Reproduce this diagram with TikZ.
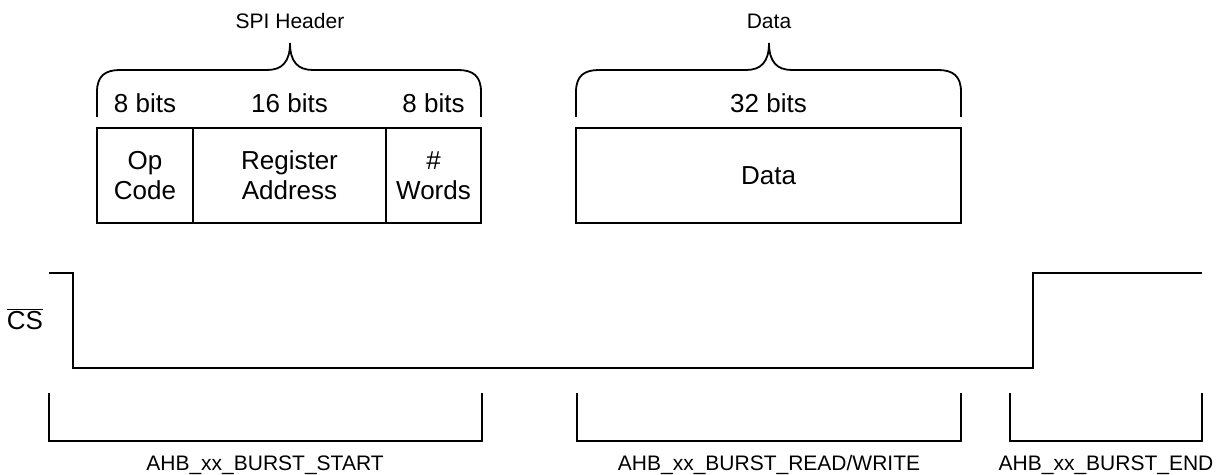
\documentclass[tikz,border=0pt]{standalone}
\usepackage{fontspec}
\setmainfont{Liberation Sans}
\tikzset{
  field/.style={draw, line width=0.75pt, minimum height=47.5pt, inner sep=0pt, outer sep=0pt, align=center, font=\fontsize{13}{15}\selectfont},
  bits/.style={anchor=base, inner sep=0pt, font=\fontsize{13}{15}\selectfont},
  caption/.style={anchor=base, inner sep=0pt, font=\fontsize{10.5}{12}\selectfont},
  wire/.style={line width=0.9pt}
}
\begin{document}
\begin{tikzpicture}[x=0.5pt, y=-0.5pt]
  \useasboundingbox (0,0) rectangle (1225,475);

  % fields
  \node[field, minimum width=48pt] (op) at (145,175.5) {Op\\Code};
  \node[field, minimum width=96.5pt, anchor=west] (reg) at (op.east) {Register\\Address};
  \node[field, minimum width=47.5pt, anchor=west] (words) at (reg.east) {\#\\Words};
  \node[field, minimum width=192.5pt] (data) at (768.5,175.5) {Data};

  % widths
  \node[bits] (b1) at (145,113) {8 bits};
  \node[bits] (b2) at (289.5,113) {16 bits};
  \node[bits] (b3) at (433.5,113) {8 bits};
  \node[bits] (b4) at (768.5,113) {32 bits};

  % braces
  \draw[wire] (97,117) -- (97,92) .. controls (97,76) and (105,70) .. (120,70) -- (267,70)
    .. controls (282,70) and (290,62) .. (290,43) .. controls (290,62) and (298,70) .. (313,70)
    -- (458,70) .. controls (473,70) and (481,76) .. (481,92) -- (481,117);
  \node[caption] (hdr) at (290,29) {SPI Header};
  \draw[wire] (576,117) -- (576,92) .. controls (576,76) and (584,70) .. (599,70) -- (746,70)
    .. controls (761,70) and (769,62) .. (769,43) .. controls (769,62) and (777,70) .. (792,70)
    -- (938,70) .. controls (953,70) and (961,76) .. (961,92) -- (961,117);
  \node[caption] (dat) at (769,29) {Data};

  % chip select
  \node[bits] (cs) at (25,330) {$\overline{\mbox{CS}}$};
  \draw[wire] (49,273) -- (73,273) -- (73,368) -- (1033,368) -- (1033,273) -- (1202,273);

  % transactions
  \draw[wire] (49,393) |- (482,441) -- (482,393);
  \node[caption] (start) at (265,470) {AHB\_xx\_BURST\_START};
  \draw[wire] (577,393) |- (961,441) -- (961,393);
  \node[caption] (rw) at (769,470) {AHB\_xx\_BURST\_READ/WRITE};
  \draw[wire] (1010,393) |- (1202,441) -- (1202,393);
  \node[caption] (end) at (1106,470) {AHB\_xx\_BURST\_END};
\end{tikzpicture}
\end{document}
